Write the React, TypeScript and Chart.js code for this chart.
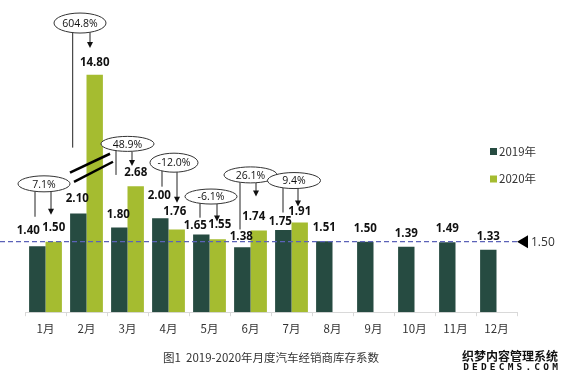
import React, { useEffect, useRef } from 'react';
import { Chart, registerables } from 'chart.js';

Chart.register(...registerables);

// ---------------- data ----------------
const MONTHS = ['1月', '2月', '3月', '4月', '5月', '6月', '7月', '8月', '9月', '10月', '11月', '12月'];
const SERIES_NAMES = ['2019年', '2020年'];
const VALUES_2019 = [1.40, 2.10, 1.80, 2.00, 1.65, 1.38, 1.75, 1.51, 1.50, 1.39, 1.49, 1.33];
const VALUES_2020: (number | null)[] = [1.50, 14.80, 2.68, 1.76, 1.55, 1.74, 1.91, null, null, null, null, null];
const GROWTH_PCT = [7.1, 604.8, 48.9, -12.0, -6.1, 26.1, 9.4];
const REFERENCE_VALUE = 1.50;
const TITLE = '图1  2019-2020年月度汽车经销商库存系数';
const WATERMARK_CN = '织梦内容管理系统';
const WATERMARK_EN = 'DEDECMS.COM';

// broken axis: values above BREAK_FROM are compressed
const BREAK_FROM = 3.0;
const BREAK_RATIO = 0.1737;
const toDisplay = (v: number | null) =>
  v == null ? null : v > BREAK_FROM ? BREAK_FROM + (v - BREAK_FROM) * BREAK_RATIO : v;

// ---------------- styles / layout ----------------
const COLOR_2019 = '#264b41';
const COLOR_2020 = '#a5bc30';
const TEXT_COLOR = '#333333';
const NUM_FONT = "'Open Sans', 'Noto Sans CJK SC', sans-serif";
const CJK_FONT = "'Noto Sans CJK SC', 'Open Sans', sans-serif";

// label offsets [dx, dy] of label centre from bar top centre
const LABEL_OFFSET_2019 = [[-9, -16], [-1, -16], [-1, -14], [-1, -23.5], [-6, -10], [-1, -11], [-3, -9], [0, -14], [0, -14], [0, -14], [0, -14], [0, -14]];
const LABEL_OFFSET_2020 = [[0, -15], [0, -13], [0, -14.5], [-2, -19], [2, -15], [-5, -14], [0, -11]];

// callout layout (x offsets in px from category centre, y in axis units)
const CALLOUTS = [
  { cx: -1.5, cy: 2.73, rx: 26, ry: 8, lx: -10.5, lEnd: 2.03, ax: 5.5, aEnd: 2.07 },
  { cx: -6.5, cy: 6.15, rx: 26, ry: 10, lx: -13.8, lEnd: 3.5, ax: 3.5, aEnd: 5.62 },
  { cx: 0, cy: 3.58, rx: 26.5, ry: 7.5, lx: -11.5, lEnd: 2.92, ax: 4.5, aEnd: 3.11 },
  { cx: 5.5, cy: 3.18, rx: 24, ry: 9.5, lx: -6.5, lEnd: 2.67, ax: 8.5, aEnd: 2.33 },
  { cx: 1.5, cy: 2.46, rx: 26, ry: 7.5, lx: -9.5, lEnd: 2.01, ax: 7.5, aEnd: 1.93 },
  { cx: 0, cy: 2.92, rx: 26.5, ry: 8, lx: -10.5, lEnd: 1.76, ax: 5.5, aEnd: 2.46 },
  { cx: 2.5, cy: 2.8, rx: 26.5, ry: 8, lx: -8.5, lEnd: 2.12, ax: 6.5, aEnd: 2.25 },
];
const BREAK_MARKS = [
  [[-16.5, 2.97], [23.5, 3.37]],
  [[-12.5, 2.77], [26.5, 3.2]],
];

const overlayPlugin = {
  id: 'overlay',
  afterDatasetsDraw(chart: any) {
    const ctx: CanvasRenderingContext2D = chart.ctx;
    const xs = chart.scales.x;
    const ys = chart.scales.y;
    const area = chart.chartArea;
    ctx.save();

    // reference dashed line
    const ry = ys.getPixelForValue(REFERENCE_VALUE);
    ctx.strokeStyle = '#5b62b8';
    ctx.lineWidth = 1.2;
    ctx.setLineDash([5, 3]);
    ctx.beginPath();
    ctx.moveTo(0, ry);
    ctx.lineTo(area.right, ry);
    ctx.stroke();
    ctx.setLineDash([]);
    // marker triangle + text
    ctx.fillStyle = '#000';
    ctx.beginPath();
    ctx.moveTo(area.right, ry);
    ctx.lineTo(area.right + 11, ry - 6.5);
    ctx.lineTo(area.right + 11, ry + 6.5);
    ctx.closePath();
    ctx.fill();
    ctx.fillStyle = TEXT_COLOR;
    ctx.font = `12px ${NUM_FONT}`;
    ctx.textAlign = 'left';
    ctx.textBaseline = 'middle';
    ctx.fillText(REFERENCE_VALUE.toFixed(2), area.right + 14, ry + 0.5);

    // value labels
    ctx.fillStyle = '#111';
    ctx.font = `bold 11.5px ${NUM_FONT}`;
    ctx.textAlign = 'center';
    ctx.textBaseline = 'alphabetic';
    const series = [VALUES_2019, VALUES_2020];
    const offsets = [LABEL_OFFSET_2019, LABEL_OFFSET_2020];
    series.forEach((vals, di) => {
      const meta = chart.getDatasetMeta(di);
      vals.forEach((v, i) => {
        if (v == null) return;
        const bar = meta.data[i];
        const off = offsets[di][i] || [0, -14];
        ctx.fillText(v.toFixed(2), bar.x + off[0], bar.y + off[1] + 4.1);
      });
    });

    // callouts
    ctx.strokeStyle = '#222';
    ctx.lineWidth = 1;
    GROWTH_PCT.forEach((g, i) => {
      const c = CALLOUTS[i];
      const base = xs.getPixelForValue(i);
      const ex = base + c.cx;
      const ey = ys.getPixelForValue(c.cy);
      const edgeY = (x: number) => {
        const d = (x - ex) / c.rx;
        return ey + c.ry * Math.sqrt(Math.max(0, 1 - d * d));
      };
      // left connector
      const lx = base + c.lx;
      ctx.beginPath();
      ctx.moveTo(lx, edgeY(lx));
      ctx.lineTo(lx, ys.getPixelForValue(c.lEnd));
      ctx.stroke();
      // arrow connector
      const ax = base + c.ax;
      const aEnd = ys.getPixelForValue(c.aEnd);
      ctx.beginPath();
      ctx.moveTo(ax, edgeY(ax));
      ctx.lineTo(ax, aEnd - 5);
      ctx.stroke();
      ctx.fillStyle = '#111';
      ctx.beginPath();
      ctx.moveTo(ax, aEnd);
      ctx.lineTo(ax - 3, aEnd - 6);
      ctx.lineTo(ax + 3, aEnd - 6);
      ctx.closePath();
      ctx.fill();
      // ellipse
      ctx.beginPath();
      ctx.ellipse(ex, ey, c.rx, c.ry, 0, 0, Math.PI * 2);
      ctx.fillStyle = '#fff';
      ctx.fill();
      ctx.strokeStyle = '#333';
      ctx.stroke();
      ctx.fillStyle = '#111';
      ctx.font = `500 10.5px ${NUM_FONT}`;
      ctx.textAlign = 'center';
      ctx.textBaseline = 'alphabetic';
      ctx.fillText(`${g.toFixed(1)}%`, ex, ey + 3.8);
      ctx.strokeStyle = '#222';
    });

    // axis break marks (on 2月)
    const fb = xs.getPixelForValue(1);
    ctx.strokeStyle = '#000';
    ctx.lineWidth = 2.5;
    BREAK_MARKS.forEach(([a, b]) => {
      ctx.beginPath();
      ctx.moveTo(fb + a[0], ys.getPixelForValue(a[1]));
      ctx.lineTo(fb + b[0], ys.getPixelForValue(b[1]));
      ctx.stroke();
    });

    // legend
    const colors = [COLOR_2019, COLOR_2020];
    ctx.font = `11.5px ${CJK_FONT}`;
    ctx.textAlign = 'left';
    ctx.textBaseline = 'middle';
    SERIES_NAMES.forEach((name, i) => {
      const y = 151.5 + i * 27.5;
      ctx.fillStyle = colors[i];
      ctx.fillRect(490, y - 3.5, 7, 7);
      ctx.fillStyle = TEXT_COLOR;
      ctx.fillText(name, 499, y);
    });

    // title
    ctx.fillStyle = TEXT_COLOR;
    ctx.font = `11.5px ${CJK_FONT}`;
    ctx.textAlign = 'center';
    ctx.textBaseline = 'middle';
    ctx.fillText(TITLE, 271, 358);

    // watermark
    ctx.font = `bold 12px ${CJK_FONT}`;
    ctx.textAlign = 'left';
    ctx.lineWidth = 2.5;
    ctx.strokeStyle = '#fff';
    ctx.lineJoin = 'round';
    ctx.strokeText(WATERMARK_CN, 462, 356);
    ctx.fillStyle = '#111';
    ctx.fillText(WATERMARK_CN, 462, 356);
    ctx.font = `bold 9.5px 'DejaVu Sans Mono', monospace`;
    ctx.textAlign = 'center';
    WATERMARK_EN.split('').forEach((ch, i) => {
      const x = 466 + i * 8.9;
      ctx.strokeText(ch, x, 368);
      ctx.fillText(ch, x, 368);
    });

    ctx.restore();
  },
};

export default function App() {
  const ref = useRef<HTMLCanvasElement>(null);
  useEffect(() => {
    if (!ref.current) return;
    const chart = new Chart(ref.current, {
      type: 'bar',
      data: {
        labels: MONTHS,
        datasets: [
          { label: SERIES_NAMES[0], data: VALUES_2019.map(toDisplay), backgroundColor: COLOR_2019 },
          { label: SERIES_NAMES[1], data: VALUES_2020.map(toDisplay), backgroundColor: COLOR_2020 },
        ],
      },
      options: {
        responsive: false,
        animation: false,
        devicePixelRatio: 1,
        layout: { padding: { left: 25, right: 54, top: 0, bottom: 41 } },
        datasets: { bar: { categoryPercentage: 0.8, barPercentage: 1.0 } },
        plugins: { legend: { display: false }, tooltip: { enabled: false }, title: { display: false } },
        scales: {
          x: {
            grid: { display: true, drawOnChartArea: false, drawTicks: true, tickLength: 4, color: '#d9d9d9' },
            border: { display: true, color: '#d9d9d9', width: 1 },
            ticks: { color: TEXT_COLOR, padding: 6, font: { size: 11.5, family: CJK_FONT } },
          },
          y: { display: false, min: 0, max: 6.64 },
        },
      },
      plugins: [overlayPlugin],
    });
    return () => chart.destroy();
  }, []);
  return (
    <div style={{ position: 'fixed', left: 0, top: 0, width: 571, height: 383, background: '#fff' }}>
      <canvas ref={ref} width={571} height={383} />
    </div>
  );
}
